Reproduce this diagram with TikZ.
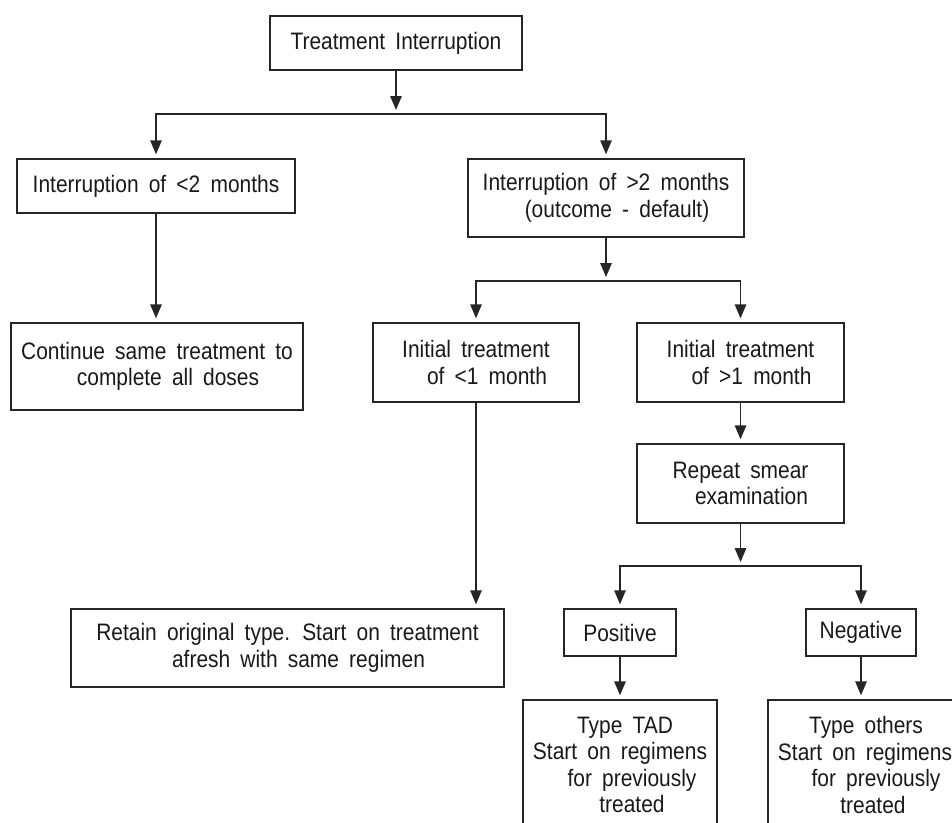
\documentclass[tikz,border=0pt]{standalone}
\usepackage{fontspec}
\setmainfont{Liberation Sans}[FakeStretch=0.88, WordSpace=1.75]
\usetikzlibrary{arrows.meta}

\begin{document}
\begin{tikzpicture}[x=1pt, y=-1pt,
  every node/.style={font=\fontsize{23.8}{26.5}\selectfont, text=black!90},
  box/.style={draw=black!85, line width=1.4pt, align=center, inner sep=0pt},
  link/.style={draw=black!85, line width=1.4pt},
  arr/.style={link, -{Triangle[length=14pt,width=11.5pt]}, shorten >=4pt}
]
\useasboundingbox (0,0) rectangle (952,822);

% boxes
\node[box, minimum width=252pt, minimum height=54pt] (top)    at (396,43)     {Treatment Interruption};
\node[box, minimum width=278pt, minimum height=54pt] (lt)     at (156,186)    {Interruption of <2 months};
\node[box, minimum width=276pt, minimum height=78pt] (rt)     at (606,198)    {Interruption of >2 months\\\hspace*{22pt}(outcome - default)};
\node[box, minimum width=292pt, minimum height=87pt] (cont)   at (157,366.5)  {Continue same treatment to\\\hspace*{22pt}complete all doses};
\node[box, minimum width=206pt, minimum height=79pt] (ione)   at (476,362.5)  {Initial treatment\\\hspace*{22pt}of <1 month};
\node[box, minimum width=207pt, minimum height=79pt] (itwo)   at (740.5,362.5){Initial treatment\\\hspace*{22pt}of >1 month};
\node[box, minimum width=207pt, minimum height=79pt] (smear)  at (740.5,483.5){Repeat smear\\\hspace*{22pt}examination};
\node[box, minimum width=433pt, minimum height=78pt] (retain) at (287.5,648)   {Retain original type. Start on treatment\\\hspace*{22pt}afresh with same regimen};
\node[box, minimum width=112pt, minimum height=47pt] (pos)    at (620,632.5)  {Positive};
\node[box, minimum width=110pt, minimum height=47pt] (neg)    at (861,632.5)  {Negative};
\node[box, minimum width=194pt, minimum height=130pt] (tad)   at (620,765)    {\hspace*{10pt}Type TAD\\Start on regimens\\\hspace*{24pt}for previously\\\hspace*{24pt}treated};
\node[box, minimum width=194pt, minimum height=130pt] (oth)   at (865,765)    {\hspace*{2pt}Type others\\Start on regimens\\\hspace*{22pt}for previously\\\hspace*{16pt}treated};

% branch points
\coordinate (b1) at (396,114);
\coordinate (b2) at (606,281);
\coordinate (b3) at (740.5,566);

% connectors
\draw[arr] (top.south) -- (b1);
\draw[arr] (b1) -- (b1 -| lt.north) -- (lt.north);
\draw[arr] (b1) -- (b1 -| rt.north) -- (rt.north);

\draw[arr] (lt.south) -- (lt.south |- cont.north);

\draw[arr] (rt.south) -- (b2);
\draw[arr] (b2) -- (b2 -| ione.north) -- (ione.north);
\draw[arr] (b2) -- (b2 -| itwo.north) -- (itwo.north);

\draw[arr] (ione.south) -- (ione.south |- retain.north);
\draw[arr] (itwo.south) -- (smear.north);

\draw[arr] (smear.south) -- (b3);
\draw[arr] (b3) -- (b3 -| pos.north) -- (pos.north);
\draw[arr] (b3) -- (b3 -| neg.north) -- (neg.north);

\draw[arr] (pos.south) -- (tad.north);
\draw[arr] (neg.south) -- (neg.south |- oth.north);
\end{tikzpicture}
\end{document}
